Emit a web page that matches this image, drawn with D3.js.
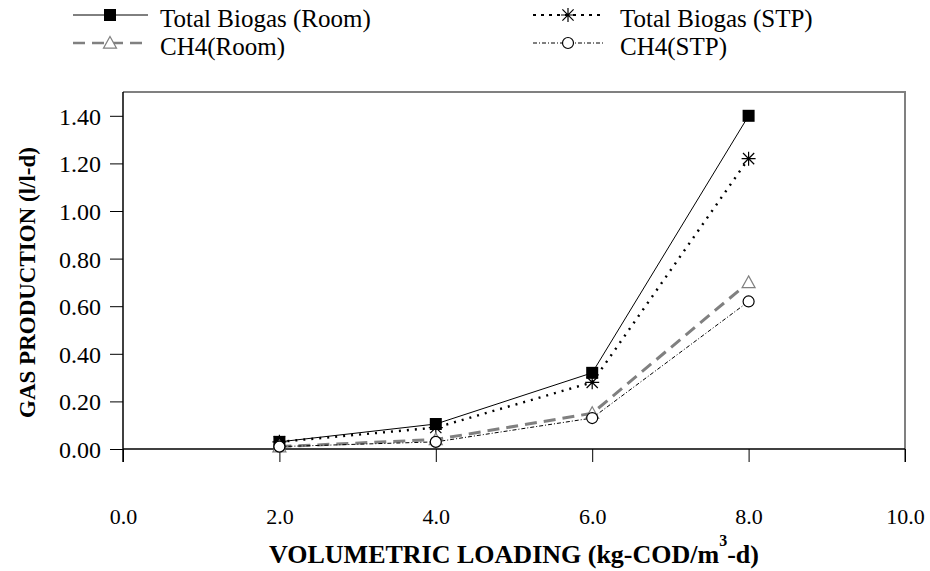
<!DOCTYPE html>
<html>
<head>
<meta charset="utf-8">
<script src="https://cdn.jsdelivr.net/npm/d3@7"></script>
<style>
  html, body { margin: 0; padding: 0; background: #fff; }
  svg { display: block; }
  text { font-family: "Liberation Serif", "Times New Roman", serif; fill: #000; }
</style>
</head>
<body>
<svg id="chart" width="930" height="571"></svg>
<script>
// Volumetric loading (kg-COD/m3-d)
const loading = [2, 4, 6, 8];

// Gas production (l/l-d) per series
const totalRoom = [0.03, 0.105, 0.32, 1.40];
const totalSTP  = [0.03, 0.09, 0.28, 1.22];
const ch4Room   = [0.01, 0.04, 0.15, 0.70];
const ch4STP    = [0.01, 0.03, 0.13, 0.62];

const xTicks = [0, 2, 4, 6, 8, 10];
const yTicks = [0, 0.2, 0.4, 0.6, 0.8, 1.0, 1.2, 1.4];

const seriesNames = ["Total Biogas (Room)", "Total Biogas (STP)", "CH4(Room)", "CH4(STP)"];

const series = [
  { name: seriesNames[0], values: totalRoom, color: "#000", width: 1, dash: null, marker: "square" },
  { name: seriesNames[1], values: totalSTP, color: "#000", width: 2.4, dash: "2,6", legendDash: "3,5", marker: "asterisk" },
  { name: seriesNames[2], values: ch4Room, color: "#808080", width: 3, dash: "12,7", marker: "triangle" },
  { name: seriesNames[3], values: ch4STP, color: "#000", width: 1, dash: "4,2,1,2", marker: "circle" }
];

const svg = d3.select("#chart");
const plot = { left: 123, right: 905, top: 92, bottom: 449 };

const x = d3.scaleLinear().domain([0, 10]).range([plot.left, plot.right]);
const y = d3.scaleLinear().domain([0, 1.5]).range([plot.bottom, plot.top]);

// Plot frame: grey top and right edges
svg.append("path")
  .attr("d", `M${plot.left},${plot.top}H${plot.right}V${plot.bottom + 13}`)
  .attr("fill", "none").attr("stroke", "#808080").attr("stroke-width", 2);

// Y axis
const yAxis = d3.axisLeft(y).tickValues(yTicks).tickSize(13).tickFormat(d3.format(".2f"));
const gy = svg.append("g").attr("transform", `translate(${plot.left},0)`).call(yAxis);
gy.select(".domain").remove();
gy.selectAll(".tick line").attr("stroke", "#000");
gy.selectAll(".tick text")
  .attr("x", -22).attr("dy", "0.35em")
  .style("font-size", "24px").style("font-family", "Liberation Serif, serif");
svg.append("line")
  .attr("x1", plot.left).attr("x2", plot.left)
  .attr("y1", plot.top).attr("y2", plot.bottom + 13)
  .attr("stroke", "#000").attr("stroke-width", 1.5);

// X axis
const xAxis = d3.axisBottom(x).tickValues(xTicks).tickSize(13).tickFormat(d3.format(".1f"));
const gx = svg.append("g").attr("transform", `translate(0,${plot.bottom})`).call(xAxis);
gx.select(".domain").remove();
gx.selectAll(".tick line").attr("stroke", "#000");
gx.selectAll(".tick text")
  .attr("y", 75).attr("dy", "0")
  .style("font-size", "22px").style("font-family", "Liberation Serif, serif");
svg.append("line")
  .attr("x1", plot.left).attr("x2", plot.right)
  .attr("y1", plot.bottom).attr("y2", plot.bottom)
  .attr("stroke", "#000").attr("stroke-width", 1.5);

// Axis titles
const xTitle = svg.append("text")
  .attr("x", (plot.left + plot.right) / 2).attr("y", 563)
  .attr("text-anchor", "middle")
  .style("font-size", "26px").style("font-weight", "bold");
xTitle.append("tspan").text("VOLUMETRIC LOADING (kg-COD/m");
xTitle.append("tspan").attr("dy", -17).style("font-size", "16px").text("3");
xTitle.append("tspan").attr("dy", 17).text("-d)");

svg.append("text")
  .attr("transform", `translate(35,${(plot.top + plot.bottom) / 2 + 12}) rotate(-90)`)
  .attr("text-anchor", "middle")
  .style("font-size", "23px").style("font-weight", "bold")
  .text("GAS PRODUCTION (l/l-d)");

// Marker drawing
function drawMarker(g, type, cx, cy, color) {
  if (type === "square") {
    g.append("rect").attr("x", cx - 6).attr("y", cy - 6).attr("width", 12).attr("height", 12)
      .attr("fill", "#000");
  } else if (type === "asterisk") {
    const r = 7;
    const p = `M${cx - r},${cy}H${cx + r}M${cx},${cy - r}V${cy + r}` +
      `M${cx - r * 0.8},${cy - r * 0.8}L${cx + r * 0.8},${cy + r * 0.8}` +
      `M${cx - r * 0.8},${cy + r * 0.8}L${cx + r * 0.8},${cy - r * 0.8}`;
    g.append("path").attr("d", p).attr("stroke", "#000").attr("stroke-width", 1.2).attr("fill", "none");
  } else if (type === "triangle") {
    const s = 6.5;
    g.append("path")
      .attr("d", `M${cx},${cy - s}L${cx + s},${cy + s * 0.8}L${cx - s},${cy + s * 0.8}Z`)
      .attr("fill", "#fff").attr("stroke", "#808080").attr("stroke-width", 1.2);
  } else if (type === "circle") {
    g.append("circle").attr("cx", cx).attr("cy", cy).attr("r", 5.5)
      .attr("fill", "#fff").attr("stroke", "#000").attr("stroke-width", 1.2);
  }
}

const line = d3.line().x((d, i) => x(loading[i])).y(d => y(d));
const marks = svg.append("g");

series.forEach(s => {
  marks.append("path")
    .attr("d", line(s.values))
    .attr("fill", "none")
    .attr("stroke", s.color)
    .attr("stroke-width", s.width)
    .attr("stroke-dasharray", s.dash);
});
series.forEach(s => {
  const g = marks.append("g");
  s.values.forEach((v, i) => drawMarker(g, s.marker, x(loading[i]), y(v), s.color));
});

// Legend
const legendPos = [
  { x1: 73, x2: 148, mx: 110, ly: 15, tx: 160 },
  { x1: 533, x2: 605, mx: 568, ly: 15, tx: 620 },
  { x1: 73, x2: 148, mx: 110, ly: 43, tx: 160 },
  { x1: 533, x2: 605, mx: 568, ly: 43, tx: 620 }
];
series.forEach((s, i) => {
  const p = legendPos[i];
  const g = svg.append("g");
  g.append("line")
    .attr("x1", p.x1).attr("x2", p.x2).attr("y1", p.ly).attr("y2", p.ly)
    .attr("stroke", s.color)
    .attr("stroke-width", i === 2 ? 2.5 : (i === 1 ? 2 : 1))
    .attr("stroke-dasharray", s.legendDash || s.dash);
  drawMarker(g, s.marker, p.mx, p.ly, s.color);
  g.append("text").attr("x", p.tx).attr("y", p.ly + 12)
    .style("font-size", "25px").text(s.name);
});
</script>
</body>
</html>
